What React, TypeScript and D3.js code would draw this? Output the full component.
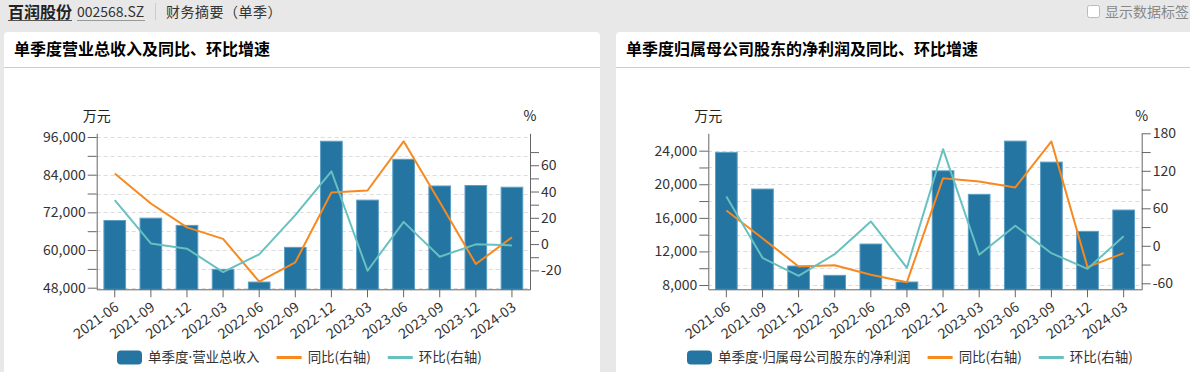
import React, { useEffect, useRef } from "react";
import * as d3 from "d3";

const quarters = [
  "2021-06", "2021-09", "2021-12", "2022-03", "2022-06", "2022-09",
  "2022-12", "2023-03", "2023-06", "2023-09", "2023-12", "2024-03",
];

// 单季度营业总收入 (万元) 与增速 (%)
const revenue = [69400, 70150, 67850, 53850, 49800, 60850, 94650, 75900, 88900, 80400, 80550, 80000];
const revenueYoy = [53.7, 30.9, 12.7, 4.0, -28.6, -13.9, 39.3, 40.8, 78.2, 32.1, -15.2, 5.1];
const revenueQoq = [33.4, 0.5, -3.5, -21.3, -7.8, 22.0, 55.4, -20.3, 16.9, -9.6, -0.2, -1.0];

// 单季度归属母公司股东的净利润 (万元) 与增速 (%)
const profit = [23800, 19430, 10260, 9150, 12880, 8360, 21600, 18800, 25140, 22640, 14390, 16930];
const profitYoy = [56.5, 12.0, -33.0, -31.0, -46.4, -58.2, 108.2, 102.9, 93.3, 166.9, -34.2, -11.8];
const profitQoq = [78.9, -19.2, -48.0, -13.4, 38.9, -35.2, 154.6, -14.4, 32.0, -11.8, -36.8, 15.4];

const revenueTicks = d3.range(48000, 96001, 6000);
const revenuePctTicks = d3.range(-20, 71, 10);
const profitTicks = d3.range(8000, 24001, 2000);
const profitPctTicks = d3.range(-60, 181, 30);

const FONT = '"Noto Sans CJK SC", "Noto Sans", sans-serif';
const BAR = "#2475a1";
const ORANGE = "#f7891f";
const TEAL = "#67c1c0";
const AXIS = "#666";

interface ChartCfg {
  panelX: number;
  title: string;
  barName: [string, string];
  bars: number[];
  yoy: number[];
  qoq: number[];
  plotLeft: number;
  plotRight: number;
  leftDomain: [number, number];
  leftTicks: number[];
  leftLabelStep: number;
  rightDomain: [number, number];
  rightTicks: number[];
  rightLabelStep: number;
  legendX: number;
}

const charts: ChartCfg[] = [
  {
    panelX: 4,
    title: "单季度营业总收入及同比、环比增速",
    barName: ["单季度", "营业总收入"],
    bars: revenue,
    yoy: revenueYoy,
    qoq: revenueQoq,
    plotLeft: 96.7,
    plotRight: 530,
    leftDomain: [47490, 97180],
    leftTicks: revenueTicks,
    leftLabelStep: 12000,
    rightDomain: [-34.4, 84.3],
    rightTicks: revenuePctTicks,
    rightLabelStep: 20,
    legendX: 117,
  },
  {
    panelX: 616,
    title: "单季度归属母公司股东的净利润及同比、环比增速",
    barName: ["单季度", "归属母公司股东的净利润"],
    bars: profit,
    yoy: profitYoy,
    qoq: profitQoq,
    plotLeft: 708.3,
    plotRight: 1141.7,
    leftDomain: [7490, 26070],
    leftTicks: profitTicks,
    leftLabelStep: 4000,
    rightDomain: [-69.6, 180],
    rightTicks: profitPctTicks,
    rightLabelStep: 60,
    legendX: 687,
  },
];

const TOP = 133.3;
const BOTTOM = 289.3;

function drawChart(svg: d3.Selection<SVGSVGElement, unknown, null, undefined>, cfg: ChartCfg) {
  const g = svg.append("g");

  g.append("rect")
    .attr("x", cfg.panelX)
    .attr("y", 32)
    .attr("width", 596)
    .attr("height", 360)
    .attr("rx", 4)
    .attr("fill", "#fff");

  g.append("text")
    .attr("x", cfg.panelX + 10)
    .attr("y", 55)
    .attr("font-size", 16)
    .attr("font-weight", "bold")
    .attr("fill", "#000")
    .text(cfg.title);

  g.append("line")
    .attr("x1", cfg.panelX)
    .attr("x2", cfg.panelX + 596)
    .attr("y1", 67.5)
    .attr("y2", 67.5)
    .attr("stroke", "#ccc");

  const x = d3
    .scaleBand()
    .domain(quarters)
    .range([cfg.plotLeft, cfg.plotRight])
    .paddingInner(0.4)
    .paddingOuter(0.2);
  const yL = d3.scaleLinear().domain(cfg.leftDomain).range([BOTTOM, TOP]);
  const yR = d3.scaleLinear().domain(cfg.rightDomain).range([BOTTOM, TOP]);
  const cx = (i: number) => x(quarters[i])! + x.bandwidth() / 2;

  // grid
  g.append("g")
    .selectAll("line")
    .data(cfg.leftTicks)
    .join("line")
    .attr("x1", cfg.plotLeft)
    .attr("x2", cfg.plotRight)
    .attr("y1", (d) => Math.round(yL(d)) + 0.5)
    .attr("y2", (d) => Math.round(yL(d)) + 0.5)
    .attr("stroke", "#dcdcdc")
    .attr("stroke-dasharray", "4,3");

  // bars
  g.append("g")
    .selectAll("rect")
    .data(cfg.bars)
    .join("rect")
    .attr("x", (_, i) => x(quarters[i])!)
    .attr("y", (d) => yL(d))
    .attr("width", x.bandwidth())
    .attr("height", (d) => BOTTOM - yL(d))
    .attr("fill", BAR)
    .attr("stroke", "#5c9fc6")
    .attr("stroke-width", 1);

  const line = d3
    .line<number>()
    .x((_, i) => cx(i))
    .y((d) => yR(d));

  g.append("path")
    .datum(cfg.yoy)
    .attr("d", line)
    .attr("fill", "none")
    .attr("stroke", ORANGE)
    .attr("stroke-width", 2)
    .attr("stroke-linejoin", "round");

  g.append("path")
    .datum(cfg.qoq)
    .attr("d", line)
    .attr("fill", "none")
    .attr("stroke", TEAL)
    .attr("stroke-width", 2)
    .attr("stroke-linejoin", "round");

  // axes
  const leftAxis = g
    .append("g")
    .attr("transform", `translate(${cfg.plotLeft},0)`)
    .call(
      d3
        .axisLeft(yL)
        .tickValues(cfg.leftTicks)
        .tickSize(9)
        .tickSizeOuter(0)
        .tickPadding(2)
        .tickFormat((d) => (+d % cfg.leftLabelStep === 0 ? d3.format(",")(+d) : ""))
    );

  const rightAxis = g
    .append("g")
    .attr("transform", `translate(${cfg.plotRight},0)`)
    .call(
      d3
        .axisRight(yR)
        .tickValues(cfg.rightTicks)
        .tickSize(9)
        .tickSizeOuter(0)
        .tickPadding(2)
        .tickFormat((d) => (+d % cfg.rightLabelStep === 0 ? String(d) : ""))
    );

  const bottomAxis = g
    .append("g")
    .attr("transform", `translate(0,${BOTTOM})`)
    .call(d3.axisBottom(x).tickSize(8).tickSizeOuter(0));

  [leftAxis, rightAxis, bottomAxis].forEach((a) => {
    a.select(".domain").attr("stroke", AXIS);
    a.selectAll(".tick line").attr("stroke", AXIS);
    a.selectAll("text").attr("fill", "#333").attr("font-size", 14).attr("font-family", FONT);
  });

  bottomAxis
    .selectAll("text")
    .attr("y", 0)
    .attr("dy", "0")
    .attr("text-anchor", "end")
    .attr("transform", "translate(5,20) rotate(-36)");

  // unit labels
  g.append("text")
    .attr("x", cfg.plotLeft)
    .attr("y", 121)
    .attr("text-anchor", "middle")
    .attr("font-size", 14)
    .attr("fill", "#222")
    .text("万元");
  g.append("text")
    .attr("x", cfg.plotRight)
    .attr("y", 121)
    .attr("text-anchor", "middle")
    .attr("font-size", 14)
    .attr("fill", "#222")
    .text("%");

  // legend
  const items = [
    { name: cfg.barName, color: BAR, kind: "bar" },
    { name: ["同比(右轴)"], color: ORANGE, kind: "line" },
    { name: ["环比(右轴)"], color: TEAL, kind: "line" },
  ];
  const ly = 357.5;
  let lx = cfg.legendX;
  items.forEach((it) => {
    if (it.kind === "bar") {
      g.append("rect")
        .attr("x", lx)
        .attr("y", ly - 7)
        .attr("width", 25)
        .attr("height", 14)
        .attr("rx", 4)
        .attr("fill", it.color);
    } else {
      g.append("line")
        .attr("x1", lx)
        .attr("x2", lx + 25)
        .attr("y1", ly)
        .attr("y2", ly)
        .attr("stroke", it.color)
        .attr("stroke-width", 3);
    }
    const t = g
      .append("text")
      .attr("x", lx + 31)
      .attr("y", ly + 4.7)
      .attr("font-size", 13.5)
      .attr("fill", "#333");
    if (it.name.length === 2) {
      t.append("tspan").text(it.name[0]);
      t.append("tspan").attr("font-family", '"Noto Sans", sans-serif').text("·");
      t.append("tspan").text(it.name[1]);
    } else {
      t.text(it.name[0]);
    }
    const w = (t.node() as SVGTextElement).getComputedTextLength();
    lx += 31 + w + 17;
  });
}

export default function App() {
  const ref = useRef<SVGSVGElement>(null);

  useEffect(() => {
    const svg = d3.select(ref.current!);
    svg.selectAll("*").remove();

    svg.append("rect").attr("width", 1190).attr("height", 372).attr("fill", "#e8e8e8");

    // header
    svg.append("text")
      .attr("x", 8)
      .attr("y", 18)
      .attr("font-size", 16)
      .attr("font-weight", "bold")
      .attr("fill", "#222")
      .text("百润股份");
    svg.append("line")
      .attr("x1", 8).attr("x2", 72).attr("y1", 20.5).attr("y2", 20.5)
      .attr("stroke", "#555");
    svg.append("text")
      .attr("x", 77)
      .attr("y", 17)
      .attr("font-size", 14)
      .attr("fill", "#333")
      .text("002568.SZ");
    svg.append("line")
      .attr("x1", 77).attr("x2", 145).attr("y1", 20.5).attr("y2", 20.5)
      .attr("stroke", "#999");
    svg.append("line")
      .attr("x1", 155.5).attr("x2", 155.5).attr("y1", 3).attr("y2", 20)
      .attr("stroke", "#ccc");
    svg.append("text")
      .attr("x", 166)
      .attr("y", 17)
      .attr("font-size", 14)
      .attr("letter-spacing", 0.5)
      .attr("fill", "#333")
      .text("财务摘要（单季）");

    svg.append("rect")
      .attr("x", 1087.5).attr("y", 5.5).attr("width", 12).attr("height", 12).attr("rx", 2)
      .attr("fill", "#fff").attr("stroke", "#bbb");
    svg.append("text")
      .attr("x", 1105)
      .attr("y", 17)
      .attr("font-size", 14)
      .attr("fill", "#888")
      .text("显示数据标签");

    charts.forEach((c) => drawChart(svg, c));
  }, []);

  return (
    <svg
      ref={ref}
      width={1190}
      height={372}
      fontFamily={FONT}
      style={{ position: "absolute", left: 0, top: 0, display: "block" }}
    />
  );
}
